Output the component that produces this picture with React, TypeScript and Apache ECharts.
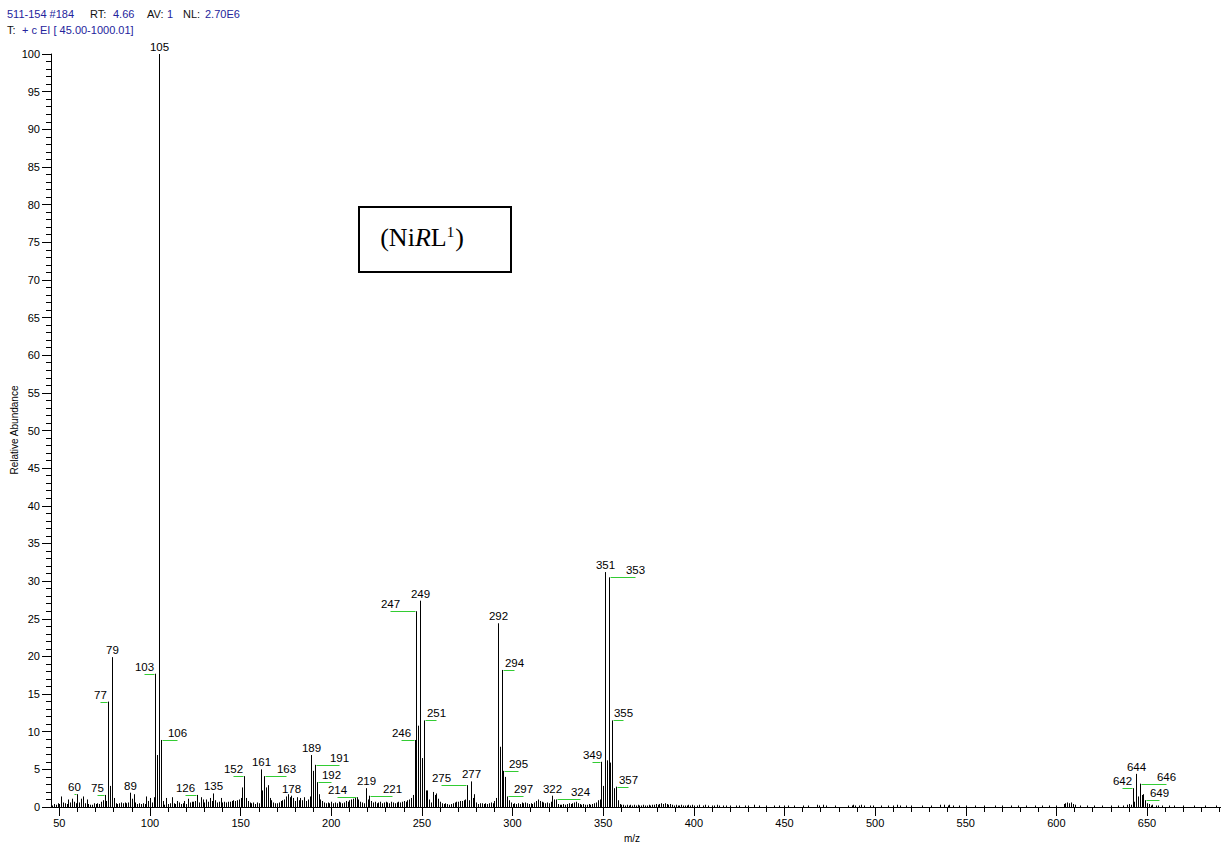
import React, { useEffect, useRef } from "react";
import * as echarts from "echarts";

// EI mass spectrum of the Ni complex: integer m/z sticks from 45 upwards.
const spectrumStartMz = 45;
// Relative abundance for m/z 45 … 360, one value per integer mass.
const lowMassAbundance = [
  /* 45 */ 0.3, 0.2, 0.4, 0.3, 0.5, 0.4, 1.4, 0.6, 0.5, 0.4,
  /* 55 */ 1.0, 0.6, 1.1, 0.7, 0.5, 1.7, 0.6, 1.1, 1.4, 0.5,
  /* 65 */ 1.0, 0.4, 0.3, 0.3, 0.5, 0.4, 0.5, 0.4, 0.7, 0.9,
  /* 75 */ 1.6, 0.8, 14.0, 2.8, 19.9, 1.2, 0.5, 0.4, 0.5, 0.6,
  /* 85 */ 0.5, 0.6, 0.5, 0.6, 1.9, 1.1, 1.7, 0.6, 0.4, 0.5,
  /* 95 */ 0.4, 0.5, 0.4, 1.4, 0.8, 1.2, 0.6, 1.3, 17.7, 6.9,
  /* 105 */ 100, 8.9, 0.8, 0.3, 1.2, 0.4, 0.5, 1.3, 0.5, 0.4,
  /* 115 */ 0.8, 0.6, 0.4, 0.5, 0.8, 0.4, 1.1, 0.6, 0.7, 0.7,
  /* 125 */ 0.8, 1.6, 0.6, 1.3, 1.0, 0.6, 1.0, 0.7, 1.2, 0.8,
  /* 135 */ 1.8, 0.9, 0.6, 0.7, 1.2, 0.6, 0.7, 0.6, 0.7, 0.7,
  /* 145 */ 0.8, 0.9, 0.8, 0.9, 1.0, 1.2, 2.6, 4.1, 1.2, 0.8,
  /* 155 */ 0.6, 0.5, 0.6, 0.4, 0.6, 0.5, 5.0, 2.2, 4.1, 2.6,
  /* 165 */ 2.9, 1.2, 0.9, 0.6, 0.5, 0.5, 0.6, 0.8, 0.9, 1.0,
  /* 175 */ 1.4, 1.7, 1.3, 1.5, 1.2, 0.8, 1.3, 0.9, 1.2, 0.9,
  /* 185 */ 1.3, 0.8, 1.0, 1.4, 6.9, 4.8, 5.6, 3.3, 1.7, 1.0,
  /* 195 */ 0.8, 0.6, 0.5, 0.6, 0.5, 0.7, 0.5, 0.6, 0.5, 0.7,
  /* 205 */ 0.6, 0.5, 0.6, 0.8, 0.7, 0.9, 1.0, 1.1, 1.2, 1.3,
  /* 215 */ 1.0, 0.7, 0.6, 0.5, 2.5, 1.0, 1.5, 0.8, 0.6, 0.7,
  /* 225 */ 0.5, 0.6, 0.7, 0.5, 0.6, 0.7, 0.6, 0.5, 0.7, 0.6,
  /* 235 */ 0.5, 0.6, 0.7, 0.6, 0.7, 0.8, 0.7, 0.9, 1.0, 1.2,
  /* 245 */ 1.6, 8.9, 26.0, 10.8, 27.4, 6.5, 11.5, 2.2, 2.2, 1.0,
  /* 255 */ 0.6, 2.0, 1.6, 1.8, 1.1, 0.7, 0.5, 0.4, 0.5, 0.4,
  /* 265 */ 0.3, 0.4, 0.5, 0.6, 0.7, 0.7, 0.8, 0.8, 0.9, 1.0,
  /* 275 */ 2.9, 0.9, 3.4, 1.2, 1.7, 0.6, 0.4, 0.5, 0.5, 0.4,
  /* 285 */ 0.5, 0.4, 0.5, 0.6, 0.5, 0.8, 1.2, 24.4, 8.0, 18.2,
  /* 295 */ 4.8, 4.0, 1.4, 0.9, 0.6, 0.4, 0.5, 0.4, 0.5, 0.4,
  /* 305 */ 0.6, 0.5, 0.6, 0.5, 0.4, 0.5, 0.4, 0.6, 0.8, 1.0,
  /* 315 */ 0.8, 0.7, 0.6, 0.5, 0.6, 0.5, 0.7, 1.5, 1.0, 1.0,
  /* 325 */ 0.4, 0.3, 0.3, 0.4, 0.3, 0.4, 0.5, 0.4, 0.5, 0.6,
  /* 335 */ 0.7, 0.5, 0.4, 0.3, 0.4, 0.3, 0.3, 0.4, 0.3, 0.4,
  /* 345 */ 0.5, 0.6, 0.9, 1.0, 6.0, 2.8, 31.2, 6.2, 30.5, 5.9,
  /* 355 */ 11.5, 2.5, 2.7, 0.9, 0.4, 0.3,
];

// Sparse sticks above m/z 360 (baseline noise and the molecular-ion cluster).
const highMassMz = [
  361, 362, 363, 364, 365, 366, 367, 368, 369, 370, 371, 372, 373, 374, 375, 376, 377, 378, 379, 380,
  381, 382, 383, 384, 385, 386, 387, 388, 389, 390, 391, 392, 393, 394, 395, 396, 397, 398, 399, 400,
  402, 403, 405, 406, 408, 410, 411, 413, 414, 416, 418, 420, 423, 425, 428, 430, 433, 436, 440, 444,
  447, 450, 452, 455, 460, 463, 468, 469, 471, 473, 478, 485, 487, 488, 489, 491, 492, 494, 497, 499,
  503, 507, 510, 512, 514, 517, 520, 526, 531, 536, 538, 540, 541, 543, 546, 550, 555, 560, 566, 570,
  575, 579, 583, 588, 592, 596, 600, 604, 605, 606, 607, 608, 609, 610, 613, 617, 621, 625, 630, 634,
  637, 639, 640, 641, 642, 643, 644, 645, 646, 647, 648, 649, 650, 651, 652, 653, 655, 656, 658, 662,
  665, 670, 676, 682, 688,
];
const highMassAbundance = [
  0.3, 0.2, 0.3, 0.2, 0.3, 0.2, 0.3, 0.2, 0.3, 0.2, 0.2, 0.3, 0.2, 0.2, 0.3, 0.2, 0.3, 0.3, 0.4, 0.3,
  0.4, 0.5, 0.4, 0.5, 0.4, 0.3, 0.4, 0.3, 0.2, 0.3, 0.2, 0.2, 0.3, 0.2, 0.2, 0.2, 0.3, 0.2, 0.3, 0.2,
  0.2, 0.3, 0.2, 0.3, 0.2, 0.2, 0.2, 0.3, 0.2, 0.2, 0.2, 0.2, 0.2, 0.2, 0.2, 0.2, 0.3, 0.2, 0.2, 0.2,
  0.2, 0.2, 0.2, 0.2, 0.2, 0.2, 0.3, 0.2, 0.3, 0.2, 0.2, 0.2, 0.2, 0.3, 0.2, 0.2, 0.3, 0.2, 0.2, 0.2,
  0.2, 0.2, 0.2, 0.3, 0.2, 0.2, 0.2, 0.2, 0.2, 0.3, 0.3, 0.2, 0.3, 0.2, 0.2, 0.2, 0.2, 0.2, 0.2, 0.2,
  0.2, 0.2, 0.2, 0.2, 0.2, 0.2, 0.2, 0.4, 0.5, 0.6, 0.5, 0.6, 0.4, 0.3, 0.2, 0.2, 0.2, 0.2, 0.2, 0.2,
  0.2, 0.3, 0.4, 0.3, 2.5, 0.7, 4.4, 1.4, 3.1, 1.6, 1.7, 0.9, 0.5, 0.4, 0.2, 0.3, 0.2, 0.2, 0.2, 0.2,
  0.2, 0.2, 0.2, 0.2, 0.2,
];

// Annotated peaks and the horizontal shift (px) of each annotation from its stick.
const labeledMz = [
  60, 75, 77, 79, 89, 103, 105, 106, 126, 135,
  152, 161, 163, 178, 189, 191, 192, 214, 219, 221,
  246, 247, 249, 251, 275, 277, 292, 294, 295, 297,
  322, 324, 349, 351, 353, 355, 357, 642, 644, 646,
  649,
];
const labelShift = [
  -3, -8, -8, 0, 0, -11, 0, 16, -12, 0,
  -11, 0, 22, 0, 0, 24, 14, -20, 0, 23,
  -14, -26, 0, 12, -26, 0, 0, 12, 15, 16,
  0, 24, -9, 0, 26, 11, 12, -11, 0, 26,
  14,
];

const xMajorTicks = [50, 100, 150, 200, 250, 300, 350, 400, 450, 500, 550, 600, 650];
const xMinorTicks = [
  60, 70, 80, 90, 110, 120, 130, 140, 160, 170, 180, 190, 210, 220, 230, 240,
  260, 270, 280, 290, 310, 320, 330, 340, 360, 370, 380, 390, 410, 420, 430, 440,
  460, 470, 480, 490, 510, 520, 530, 540, 560, 570, 580, 590, 610, 620, 630, 640,
  660, 670, 680, 690,
];

const SANS = '"Liberation Sans", Arial, sans-serif';
const SERIF = '"Liberation Serif", "Times New Roman", serif';
const BLUE = "#24249c";
const LEADER = "#33cc33";

function buildSpectrum(): number[][] {
  const pts: number[][] = lowMassAbundance.map((v, i) => [spectrumStartMz + i, v]);
  highMassMz.forEach((m, i) => pts.push([m, highMassAbundance[i]]));
  return pts;
}

export default function App() {
  const ref = useRef<HTMLDivElement>(null);

  useEffect(() => {
    document.body.style.margin = "0";
    if (!ref.current) return;
    const chart = echarts.init(ref.current, null, { renderer: "svg" });

    const spectrum = buildSpectrum();
    const lookup = new Map<number, number>();
    spectrum.forEach(([m, v]) => lookup.set(m, v));
    // [m/z, abundance, shift] for every annotated peak
    const labelData = labeledMz.map((m, i) => [m, lookup.get(m) ?? 0, labelShift[i]]);
    const leaderData = labelData.filter((d) => d[2] !== 0);

    const headerText = (x: number, y: number, text: string, fill: string) => ({
      type: "text",
      x,
      y,
      style: {
        text,
        fill,
        font: `11px ${SANS}`,
        textAlign: "left",
        textVerticalAlign: "middle",
        align: "left",
        verticalAlign: "middle",
      },
    });

    const option: any = {
      animation: false,
      backgroundColor: "#ffffff",
      grid: { left: 51, right: 0, top: 54, bottom: 38, containLabel: false, outerBoundsMode: "none" },
      xAxis: [
        {
          type: "value",
          min: 45.4,
          max: 690.8,
          axisLine: { show: true, lineStyle: { color: "#000", width: 1 } },
          axisTick: { show: true, length: 9, customValues: xMajorTicks, lineStyle: { color: "#000" } },
          axisLabel: {
            show: true,
            customValues: xMajorTicks,
            margin: 10,
            color: "#000",
            fontSize: 11,
            fontFamily: SANS,
          },
          splitLine: { show: false },
        },
        {
          type: "value",
          position: "bottom",
          min: 45.4,
          max: 690.8,
          axisLine: { show: false },
          axisTick: { show: true, length: 5, customValues: xMinorTicks, lineStyle: { color: "#000" } },
          axisLabel: { show: false },
          splitLine: { show: false },
        },
      ],
      yAxis: {
        type: "value",
        min: 0,
        max: 100,
        interval: 5,
        axisLine: { show: true, lineStyle: { color: "#000", width: 1 } },
        axisTick: { show: true, length: 9, lineStyle: { color: "#000" } },
        minorTick: { show: true, splitNumber: 5, length: 5, lineStyle: { color: "#000" } },
        axisLabel: { margin: 11, color: "#000", fontSize: 11, fontFamily: SANS },
        splitLine: { show: false },
      },
      graphic: [
        headerText(7, 14, "511-154 #184", BLUE),
        headerText(90, 14, "RT:", "#111"),
        headerText(113, 14, "4.66", BLUE),
        headerText(147, 14, "AV:", "#111"),
        headerText(167, 14, "1", BLUE),
        headerText(183, 14, "NL:", "#111"),
        headerText(205, 14, "2.70E6", BLUE),
        headerText(7, 30, "T:", "#111"),
        headerText(22, 30, "+ c EI [ 45.00-1000.01]", BLUE),
        {
          type: "text",
          x: 14,
          y: 430,
          rotation: Math.PI / 2,
          style: {
            text: "Relative Abundance",
            fill: "#000",
            font: `10px ${SANS}`,
            textAlign: "center",
            textVerticalAlign: "middle",
            align: "center",
            verticalAlign: "middle",
          },
        },
        {
          type: "text",
          x: 632,
          y: 838,
          style: {
            text: "m/z",
            fill: "#000",
            font: `10px ${SANS}`,
            textAlign: "center",
            textVerticalAlign: "middle",
            align: "center",
            verticalAlign: "middle",
          },
        },
        {
          type: "rect",
          shape: { x: 359, y: 207, width: 152, height: 65 },
          style: { fill: "none", stroke: "#000", lineWidth: 2 },
        },
        {
          type: "text",
          x: 422,
          y: 237,
          style: {
            text: "{n|(Ni}{i|R}{n|L}{s|1}{n|)}",
            textAlign: "center",
            textVerticalAlign: "middle",
            align: "center",
            verticalAlign: "middle",
            rich: {
              n: { fontFamily: SERIF, fontSize: 26, fill: "#000", color: "#000" },
              i: { fontFamily: SERIF, fontSize: 26, fontStyle: "italic", fill: "#000", color: "#000" },
              s: {
                fontFamily: SERIF,
                fontSize: 15,
                fill: "#000",
                color: "#000",
                verticalAlign: "top",
                padding: [0, 1, 11, 0],
              },
            },
          },
        },
      ],
      series: [
        {
          type: "custom",
          name: "spectrum",
          xAxisIndex: 0,
          yAxisIndex: 0,
          data: spectrum,
          clip: true,
          renderItem: (params: any, api: any) => {
            const m = api.value(0);
            const v = api.value(1);
            const p0 = api.coord([m, 0]);
            const p1 = api.coord([m, v]);
            const x = Math.round(p0[0]) + 0.5;
            return {
              type: "line",
              shape: { x1: x, y1: p0[1], x2: x, y2: p1[1] },
              style: { stroke: "#000", lineWidth: 1 },
            };
          },
        },
        {
          // green leaders from a peak top to its shifted annotation
          type: "custom",
          name: "leaders",
          xAxisIndex: 0,
          yAxisIndex: 0,
          data: leaderData,
          clip: false,
          z: 6,
          renderItem: (params: any, api: any) => {
            const p = api.coord([api.value(0), api.value(1)]);
            const dx = api.value(2);
            const x = Math.round(p[0]) + 0.5;
            const y = Math.round(p[1]) + 0.5;
            return {
              type: "line",
              shape: { x1: x + (dx > 0 ? 1 : -1), y1: y, x2: x + dx, y2: y },
              style: { stroke: LEADER, lineWidth: 1, fill: null },
            };
          },
        },
        {
          type: "custom",
          name: "annotations",
          xAxisIndex: 0,
          yAxisIndex: 0,
          data: labelData,
          clip: false,
          z: 5,
          renderItem: (params: any, api: any) => {
            const p = api.coord([api.value(0), api.value(1)]);
            const dx = api.value(2);
            const x = Math.round(p[0]) + 0.5;
            const y = Math.round(p[1]) + 0.5;
            return {
              type: "text",
              x: x + dx,
              y: y - 2,
              style: {
                text: String(api.value(0)),
                fill: "#000",
                font: `11.5px ${SANS}`,
                textAlign: "center",
                textVerticalAlign: "bottom",
                align: "center",
                verticalAlign: "bottom",
              },
            };
          },
        },
      ],
    };

    chart.setOption(option);
    return () => chart.dispose();
  }, []);

  return (
    <div
      ref={ref}
      style={{ position: "absolute", left: 0, top: 0, width: 1221, height: 845 }}
    />
  );
}
